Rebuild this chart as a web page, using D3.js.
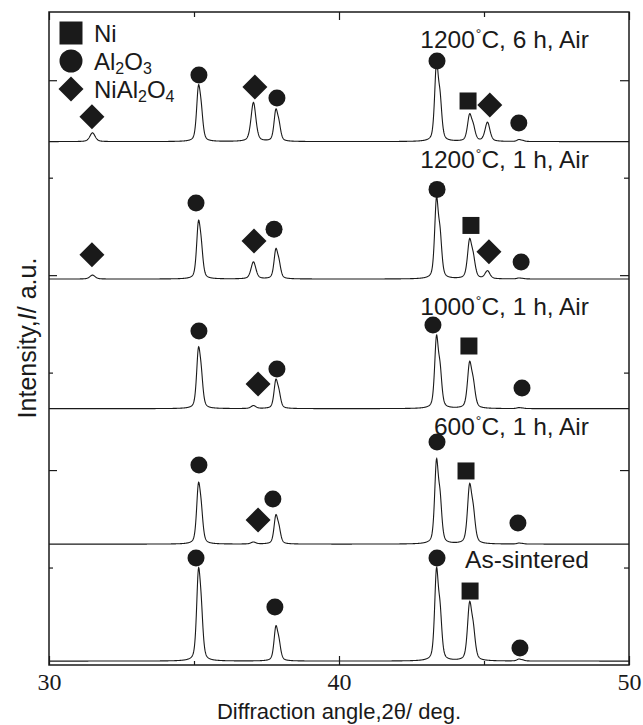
<!DOCTYPE html>
<html>
<head>
<meta charset="utf-8">
<script src="https://cdn.jsdelivr.net/npm/d3@7"></script>
<style>
  body { margin: 0; background: #fff; }
  text { font-family: "Liberation Sans", Arial, sans-serif; fill: #1a1a1a; }
  .tick text { font-family: "Liberation Serif", "Times New Roman", serif; }
</style>
</head>
<body>
<script>
// XRD patterns, stacked. Peak table + heights
var peakPos   = [31.5, 35.15, 37.05, 37.82, 43.36, 44.5, 45.12, 46.2];
var peakWidth = [0.22, 0.15, 0.20, 0.15, 0.15, 0.17, 0.20, 0.16];
var ka2Ratio  = [0, 0.5, 0, 0.5, 0.5, 0.5, 0, 0.5];   // Cu K-alpha2 shoulder
var ka2Shift  = [0, 0.10, 0, 0.11, 0.125, 0.13, 0, 0.13];

var asSintered = [0, 0.944, 0, 0.36, 0.954, 0.605, 0, 0.02];
var air600     = [0, 0.626, 0.02, 0.30, 0.87, 0.616, 0, 0.01];
var air1000    = [0, 0.626, 0.03, 0.30, 0.75, 0.48, 0, 0.01];
var air1200h1  = [0.04, 0.595, 0.175, 0.31, 0.84, 0.41, 0.08, 0.01];
var air1200h6  = [0.09, 0.575, 0.40, 0.33, 0.82, 0.28, 0.195, 0.02];

var patterns  = [asSintered, air600, air1000, air1200h1, air1200h6];
var offsets   = [0.04, 1.24, 2.63, 3.96, 5.37];
var labels    = ["As-sintered", "600°C, 1 h, Air", "1000°C, 1 h, Air", "1200°C, 1 h, Air", "1200°C, 6 h, Air"];
var labelY    = [0.995, 2.36, 3.59, 5.10, 6.33];

// phase markers: [type, 2theta, intensity]  s = Ni, c = Al2O3, d = NiAl2O4
var marksAs    = [["c",35.07,1.098],["c",37.79,0.595],["c",43.38,1.098],["s",44.52,0.759],["c",46.24,0.174]];
var marks600   = [["c",35.17,2.052],["d",37.21,1.488],["c",37.72,1.703],["c",43.38,2.288],["s",44.38,1.991],["c",46.17,1.457]];
var marks1000  = [["c",35.17,3.427],["d",37.21,2.883],["c",37.86,3.037],["c",43.24,3.489],["s",44.48,3.273],["c",46.31,2.842]];
var marks1200a = [["d",31.48,4.21],["c",35.07,4.74],["d",37.07,4.35],["c",37.76,4.47],["c",43.38,4.88],["s",44.55,4.51],["d",45.17,4.24],["c",46.28,4.135]];
var marks1200b = [["d",31.48,5.626],["c",35.17,6.054],["d",37.1,5.93],["c",37.86,5.818],["c",43.38,6.197],["s",44.45,5.787],["d",45.2,5.746],["c",46.2,5.561]];
var allMarks = [marksAs, marks600, marks1000, marks1200a, marks1200b];

var legendTypes = ["s", "c", "d"];
var legendNames = ["Ni", "Al2O3", "NiAl2O4"];

var xTicksMajor = [30, 40, 50], xTicksMinor = [35, 45];
var yTicksMajor = [2, 4, 6], yTicksMinor = [1, 3, 5];

var W = 643, H = 725;
var margin = {top: 12, right: 14, bottom: 60, left: 49};

var svg = d3.select("body").append("svg").attr("width", W).attr("height", H);

var x = d3.scaleLinear().domain([30, 50]).range([margin.left, W - margin.right]);
var y = d3.scaleLinear().domain([0, 6.7]).range([H - margin.bottom, margin.top]);

function profile(d, w) {
  var t = d / w, eta = 0.45;
  return eta / (1 + 4 * t * t) + (1 - eta) * Math.exp(-4 * Math.LN2 * t * t);
}

// build each trace on a 0.01 deg grid
var grid = d3.range(30, 50.0001, 0.01);
function trace(heights, off) {
  return grid.map(function(tt) {
    var v = off;
    heights.forEach(function(h, i) {
      if (!h) return;
      var amp = h / (1 + ka2Ratio[i] * profile(ka2Shift[i], peakWidth[i]));
      v += amp * profile(tt - peakPos[i], peakWidth[i]);
      if (ka2Ratio[i]) v += amp * ka2Ratio[i] * profile(tt - peakPos[i] - ka2Shift[i], peakWidth[i]);
    });
    return [tt, v];
  });
}

var line = d3.line().x(function(d) { return x(d[0]); }).y(function(d) { return y(d[1]); });

svg.append("g").selectAll("path")
  .data(patterns)
  .join("path")
  .attr("d", function(p, i) { return line(trace(p, offsets[i])); })
  .attr("fill", "none")
  .attr("stroke", "#1a1a1a")
  .attr("stroke-width", 1.1);

// markers
var symSize = {s: 289, c: 227, d: 312};
function markPath(t, scale) {
  var k = scale || 1;
  if (t === "c") return d3.symbol(d3.symbolCircle, symSize.c * k)();
  return d3.symbol(d3.symbolSquare, symSize[t] * k)();
}
allMarks.forEach(function(ms) {
  svg.append("g").selectAll("path")
    .data(ms)
    .join("path")
    .attr("d", function(m) { return markPath(m[0]); })
    .attr("transform", function(m) {
      return "translate(" + x(m[1]) + "," + y(m[2]) + ")" + (m[0] === "d" ? " rotate(45)" : "");
    })
    .attr("fill", "#1a1a1a");
});

// pattern labels with raised degree sign
labels.forEach(function(lab, i) {
  var t = svg.append("text")
    .attr("x", x(48.62)).attr("y", y(labelY[i]))
    .attr("text-anchor", "end")
    .style("font-size", "24.5px");
  var parts = lab.split("°");
  t.append("tspan").text(parts[0]);
  if (parts.length > 1) {
    t.append("tspan").text("°").style("font-size", "14px").attr("dy", -9).attr("dx", 1);
    t.append("tspan").text(parts[1]).attr("dy", 9);
  }
});

// legend
function formula(sel, s) {
  var parts = s.match(/[A-Za-z]+|\d+/g);
  var down = false;
  parts.forEach(function(p) {
    var isNum = /\d/.test(p);
    var ts = sel.append("tspan").text(p);
    if (isNum) { ts.style("font-size", "16px").attr("dy", down ? 0 : 4); down = true; }
    else { ts.attr("dy", down ? -4 : 0); down = false; }
  });
}
var legY = [33, 61, 89];
var leg = svg.append("g");
legendTypes.forEach(function(t, i) {
  leg.append("path")
    .attr("d", markPath(t, t === "d" ? 1 : 1.83))
    .attr("transform", "translate(71," + legY[i] + ")" + (t === "d" ? " rotate(45)" : ""))
    .attr("fill", "#1a1a1a");
  var tx = leg.append("text").attr("x", 94).attr("y", legY[i] + 8.5).style("font-size", "24px");
  formula(tx, legendNames[i]);
});

// axes: inward ticks on all four sides
function tickStyle(g) {
  g.select(".domain").remove();
  g.selectAll(".tick line").attr("stroke", "#1a1a1a").attr("stroke-width", 1.2);
}
var x0 = x.range()[0], x1 = x.range()[1], y0 = y.range()[0], y1 = y.range()[1];

svg.append("g").attr("transform", "translate(0," + y0 + ")")
  .call(d3.axisBottom(x).tickValues(xTicksMajor).tickSize(-9).tickPadding(8).tickFormat(d3.format("d")))
  .call(tickStyle)
  .selectAll("text").style("font-size", "24px").attr("fill", "#1a1a1a");
svg.append("g").attr("transform", "translate(0," + y0 + ")")
  .call(d3.axisBottom(x).tickValues(xTicksMinor).tickSize(-4).tickFormat(""))
  .call(tickStyle);
svg.append("g").attr("transform", "translate(0," + y1 + ")")
  .call(d3.axisTop(x).tickValues(xTicksMajor).tickSize(-8).tickFormat(""))
  .call(tickStyle);
svg.append("g").attr("transform", "translate(0," + y1 + ")")
  .call(d3.axisTop(x).tickValues(xTicksMinor).tickSize(-5).tickFormat(""))
  .call(tickStyle);
svg.append("g").attr("transform", "translate(" + x0 + ",0)")
  .call(d3.axisLeft(y).tickValues(yTicksMajor).tickSize(-8).tickFormat(""))
  .call(tickStyle);
svg.append("g").attr("transform", "translate(" + x0 + ",0)")
  .call(d3.axisLeft(y).tickValues(yTicksMinor).tickSize(-4).tickFormat(""))
  .call(tickStyle);
svg.append("g").attr("transform", "translate(" + x1 + ",0)")
  .call(d3.axisRight(y).tickValues(yTicksMajor).tickSize(-9).tickFormat(""))
  .call(tickStyle);
svg.append("g").attr("transform", "translate(" + x1 + ",0)")
  .call(d3.axisRight(y).tickValues(yTicksMinor).tickSize(-5).tickFormat(""))
  .call(tickStyle);

svg.append("rect")
  .attr("x", x0).attr("y", y1).attr("width", x1 - x0).attr("height", y0 - y1)
  .attr("fill", "none").attr("stroke", "#1a1a1a").attr("stroke-width", 1.5);

// axis titles
svg.append("text")
  .attr("x", (x0 + x1) / 2).attr("y", 719)
  .attr("text-anchor", "middle").style("font-size", "22px")
  .text("Diffraction angle,2θ/ deg.");

var yt = svg.append("text")
  .attr("transform", "translate(36," + 338 + ") rotate(-90)")
  .attr("text-anchor", "middle").style("font-size", "25px");
yt.append("tspan").text("Intensity,");
yt.append("tspan").text("I").style("font-style", "italic");
yt.append("tspan").text("/ a.u.");
</script>
</body>
</html>
